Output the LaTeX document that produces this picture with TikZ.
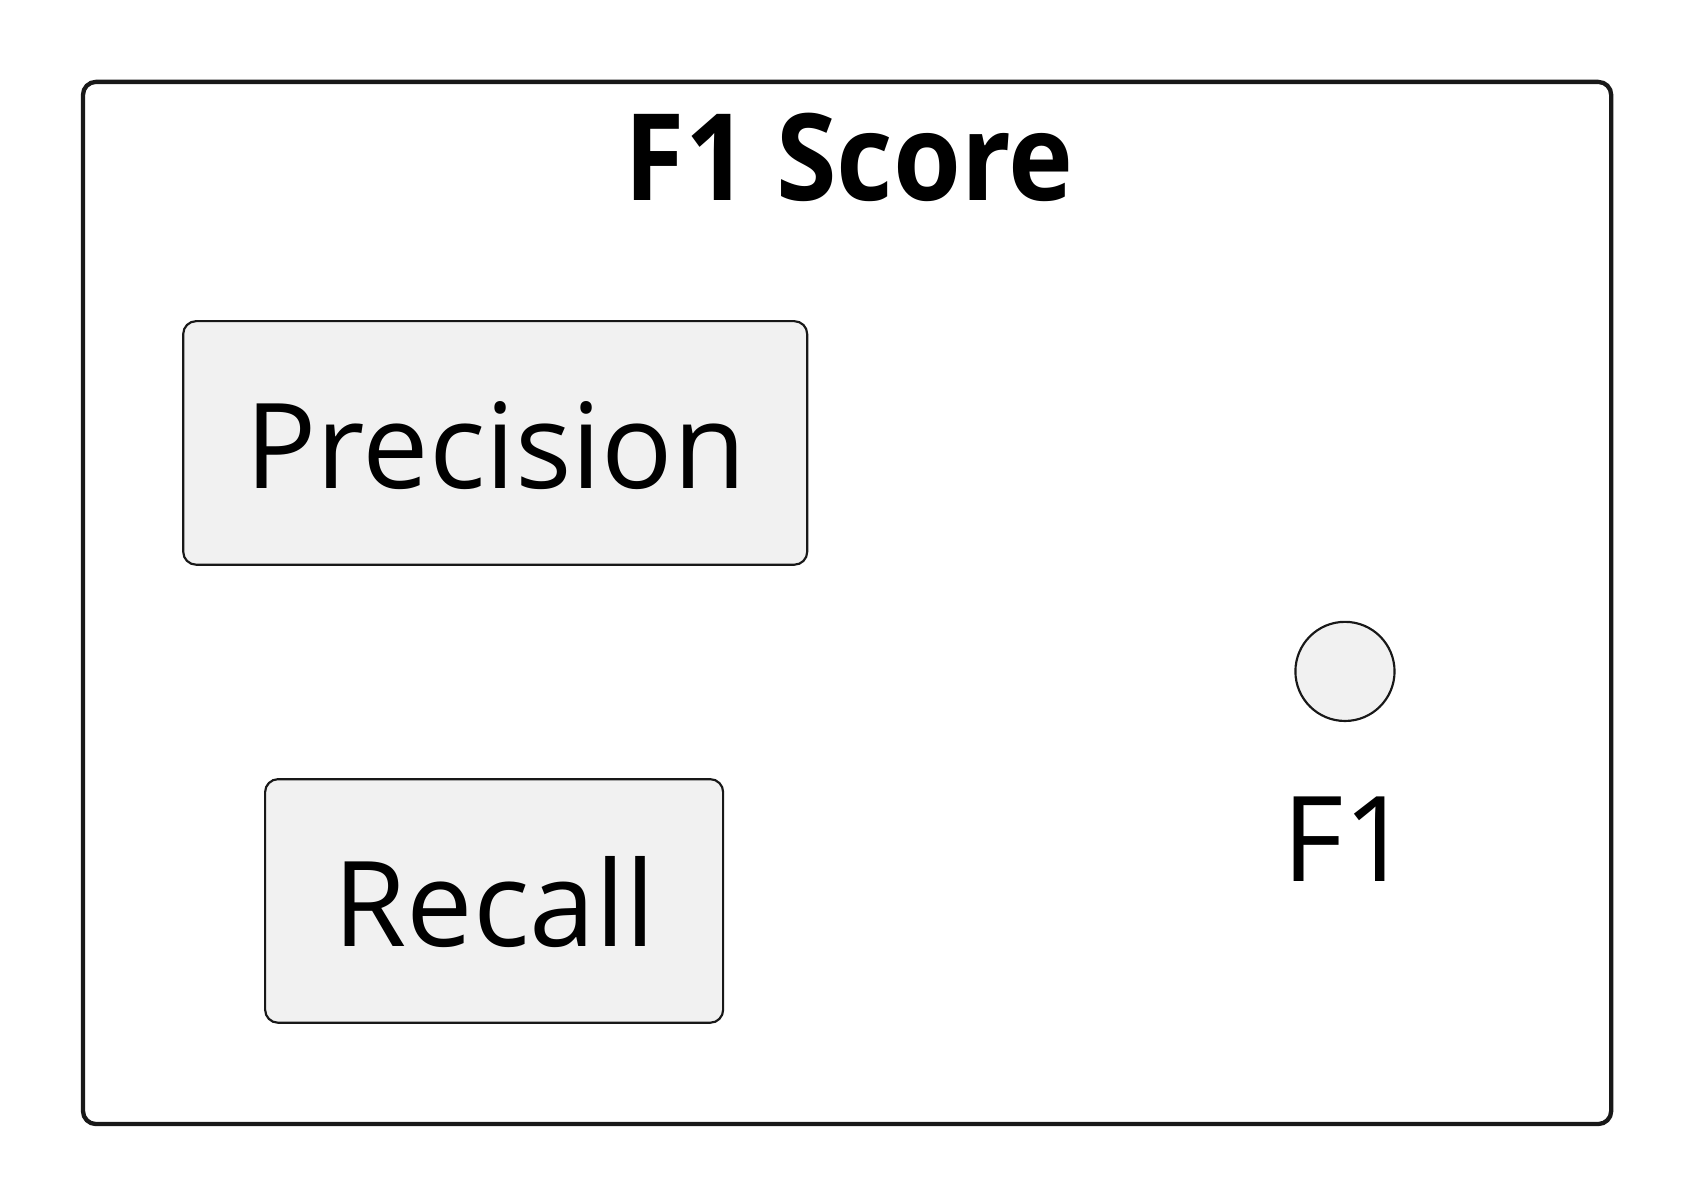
\documentclass[tikz,border=0pt]{standalone}
\usepackage{fontspec}
\setmainfont{Open Sans}
\newfontfamily\ttlfont[FakeStretch=0.91]{Open Sans Bold}
\definecolor{linec}{HTML}{181818}
\definecolor{boxfill}{HTML}{F1F1F1}
\begin{document}
\begin{tikzpicture}[x=0.5pt,y=-0.5pt,
  frame/.style={draw=linec,line width=2pt,rounded corners=6pt},
  rectbox/.style={draw=linec,fill=boxfill,line width=1pt,rounded corners=6pt},
  lbl/.style={anchor=base,inner sep=0pt,font=\fontsize{55}{62}\selectfont},
  ttl/.style={anchor=base,inner sep=0pt,font=\fontsize{56}{62}\ttlfont}]
\useasboundingbox[fill=white] (0,0) rectangle (1570,1117);
\draw[frame] (77,76) rectangle (1495,1043);
\node[ttl] (title) at (788,186) {F1 Score};
\draw[rectbox] (170,298) rectangle (749,524);
\node[lbl] (prec) at (460,453) {Precision};
\draw[rectbox] (246,723) rectangle (671,949);
\node[lbl] (rec) at (459,878) {Recall};
\node[circle,draw=linec,fill=boxfill,line width=1pt,minimum size=46pt,inner sep=0pt] (f1c) at (1248,623) {};
\node[lbl] (f1) at (1250,818) {F1};
\end{tikzpicture}
\end{document}
